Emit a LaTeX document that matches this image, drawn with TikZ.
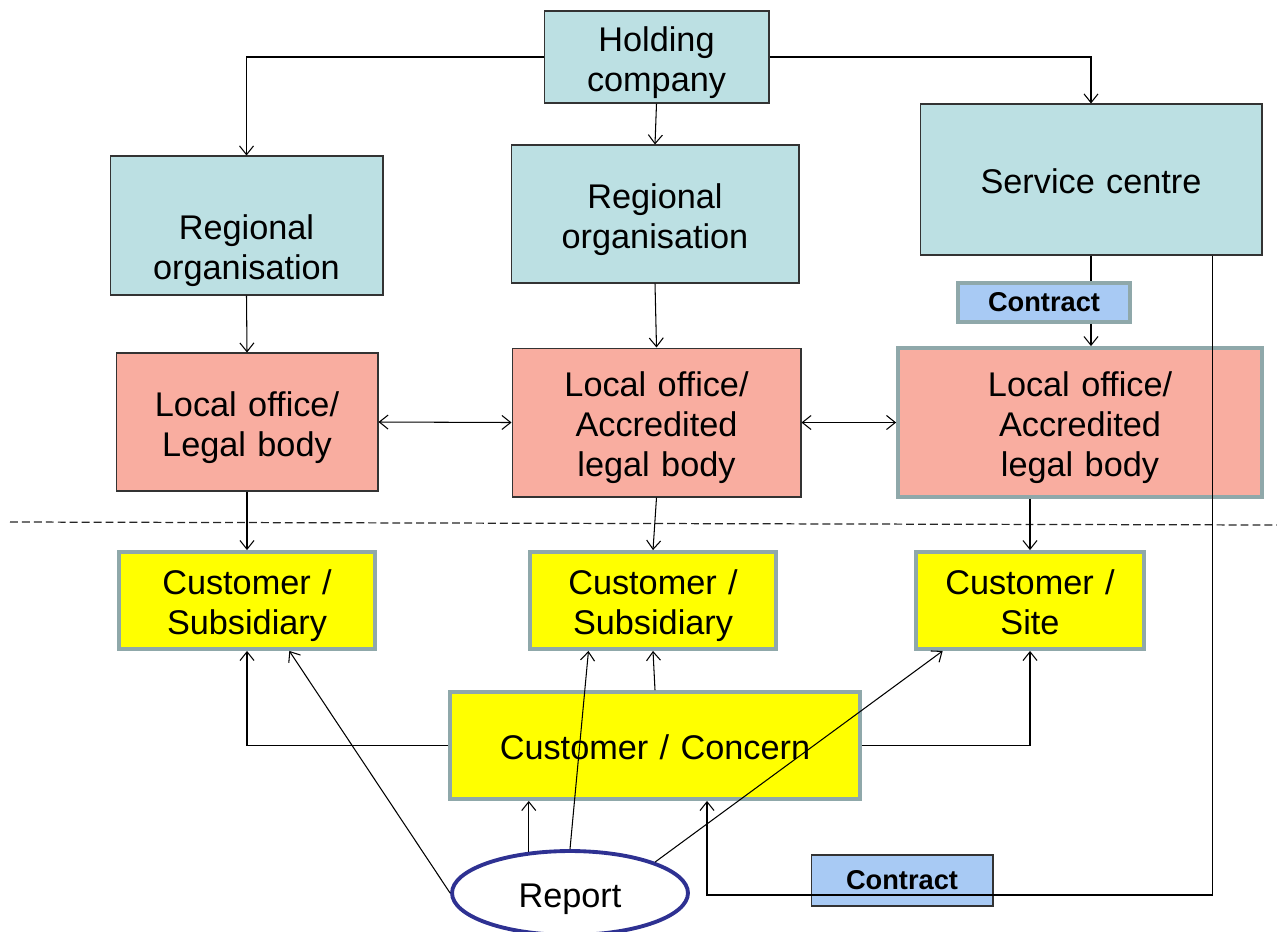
\documentclass[tikz,border=0pt]{standalone}
\usepackage{fontspec}
\setmainfont{Liberation Sans}
\usetikzlibrary{arrows.meta,shapes.geometric}
\definecolor{orgteal}{HTML}{BCE0E3}
\definecolor{salmon}{HTML}{F9ADA0}
\definecolor{custyellow}{HTML}{FFFF00}
\definecolor{contr}{HTML}{A8CAF4}
\definecolor{rim}{HTML}{8FA8AA}
\definecolor{navy}{HTML}{2E3192}
\tikzset{
  bigtext/.style={font=\fontsize{19.5}{22.7}\selectfont,
    execute at begin node={\rule{0pt}{21.5pt}},
    execute at end node={\rule[-5.5pt]{0pt}{5.5pt}}},
  sz/.style 2 args={minimum width=#1, text width=#1, minimum height=#2},
  box/.style={draw=black!80, line width=0.6pt, align=center, inner sep=0pt, bigtext},
  orgbox/.style={box, fill=orgteal},
  officebox/.style={box, fill=salmon},
  custbox/.style={box, fill=custyellow, draw=rim, line width=2.2pt},
  contractbox/.style={draw=black!80, line width=0.6pt, inner sep=0pt, fill=contr,
    font=\fontsize{15.5}{18}\selectfont\bfseries},
  link/.style={line width=0.6pt, >={Straight Barb[length=5pt,width=8pt]}}
}
\begin{document}
\begin{tikzpicture}[x=0.02cm, y=-0.02cm]
\useasboundingbox (0,0) rectangle (1277,931);

% upper level
\node[orgbox, sz={4.5cm}{1.84cm}] (hold) at (656.5,57) {Holding\\company};
\node[orgbox, sz={5.46cm}{2.78cm}] (reg1) at (246.5,225.5) {};
\node[bigtext, align=center, text width=5.46cm, inner sep=0pt] (reg1txt) at (246.5,245) {Regional\\organisation};
\node[orgbox, sz={5.76cm}{2.76cm}] (reg2) at (655,214) {Regional\\organisation};
\node[orgbox, sz={6.84cm}{3.02cm}] (svc) at (1091,179.5) {Service centre};
\node[contractbox, draw=rim, line width=2.2pt, minimum width=3.44cm, minimum height=0.78cm] (con1) at (1044,302.5) {Contract};

\node[officebox, sz={5.24cm}{2.76cm}] (loc1) at (247,422) {Local office/\\Legal body};
\node[officebox, sz={5.78cm}{2.98cm}] (loc2) at (656.5,422.5) {Local office/\\Accredited\\legal body};
\node[officebox, draw=rim, line width=2.2pt, sz={7.28cm}{2.98cm}] (loc3) at (1080,422.5) {Local office/\\Accredited\\legal body};

% customer level
\node[custbox, sz={5.12cm}{1.94cm}] (cust1) at (247,600.5) {Customer /\\Subsidiary};
\node[custbox, sz={4.92cm}{1.94cm}] (cust2) at (653,600.5) {Customer /\\Subsidiary};
\node[custbox, sz={4.56cm}{1.94cm}] (cust3) at (1030,600.5) {Customer /\\Site};
\node[custbox, sz={8.2cm}{2.14cm}] (conc) at (655,745.5) {Customer / Concern};

\node[ellipse, draw=navy, line width=2.2pt, fill=white, minimum width=4.72cm, minimum height=1.68cm,
  inner sep=0pt, bigtext] (rep) at (570,893) {Report};
\node[contractbox, minimum width=3.64cm, minimum height=1.02cm] (con2) at (902,880.5) {Contract};

\draw[black!85, line width=0.7pt, dash pattern=on 4.5pt off 2.3pt] (10,522) -- (1277,525);

% connectors
\draw[link, ->] (hold.west) -| (reg1.north);
\draw[link, ->] (hold.east) -| (svc.north);
\draw[link, ->] (hold.south) -- (reg2.north);
\draw[link, ->] (reg1.south) -- (loc1.north);
\draw[link, ->] (reg2.south) -- (loc2.north);
\draw[link] (svc.south) -- (svc.south |- con1.north);
\draw[link, ->] (svc.south |- con1.south) -- (svc.south |- loc3.north);
\draw[link, <->] (loc1.east) -- (loc2.west);
\draw[link, <->] (loc2.east) -- (loc3.west);
\draw[link, ->] (loc1.south) -- (cust1.north);
\draw[link, ->] (loc2.south) -- (cust2.north);
\draw[link, ->] (cust3.north |- loc3.south) -- (cust3.north);
\draw[link, ->] (conc.west) -| (cust1.south);
\draw[link, ->] (conc.east) -| (cust3.south);
\draw[link, ->] (conc.north) -- (cust2.south);
\draw[link, ->] (rep.135) -- (rep.135 |- conc.south);
\draw[link, ->] (rep.north) -- (cust2.218);
\draw[link, ->] (rep.20) -- (cust3.210);
\draw[link, ->] (rep.west) -- (cust1.310);
\coordinate (bend) at (707,895);
\draw[link, ->] (svc.328) |- (bend) -- (bend |- conc.south);
\end{tikzpicture}
\end{document}
